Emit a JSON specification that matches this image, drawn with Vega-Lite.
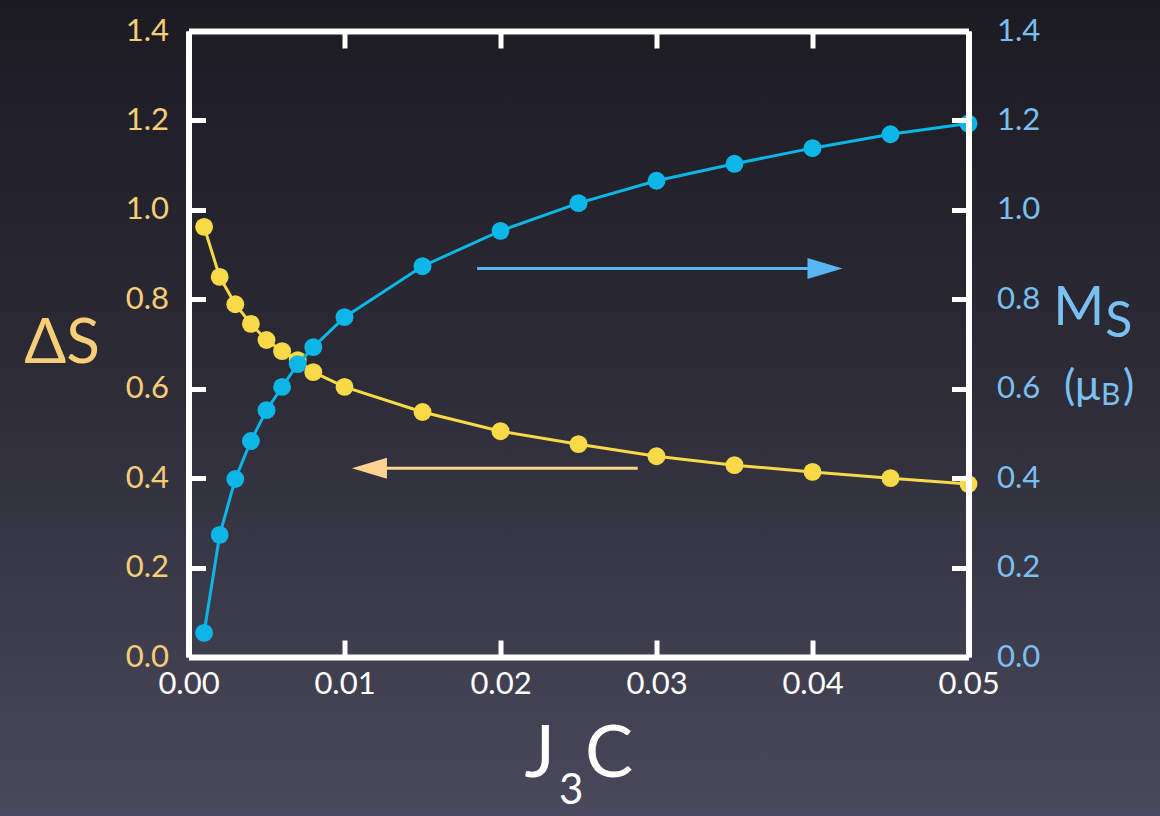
{
  "$schema": "https://vega.github.io/schema/vega-lite/v6.json",
  "width": 780,
  "height": 626,
  "autosize": {"type": "none"},
  "padding": {"left": 188.5, "top": 31, "right": 191.5, "bottom": 159},
  "background": "#2e2d39",
  "config": {
    "view": {"stroke": null},
    "font": "Lato",
    "axis": {
      "domainColor": "#ffffff",
      "domainWidth": 6,
      "tickColor": "#ffffff",
      "tickWidth": 5,
      "tickSize": -17,
      "labelFont": "Lato",
      "labelFontSize": 31,
      "grid": false,
      "labelFlush": false,
      "labelOverlap": false,
      "labelBound": false
    }
  },
  "datasets": {
    "curves": [
      {"J3C": 0.001, "dS": 0.962, "Ms": 0.054},
      {"J3C": 0.002, "dS": 0.850, "Ms": 0.273},
      {"J3C": 0.003, "dS": 0.789, "Ms": 0.398},
      {"J3C": 0.004, "dS": 0.745, "Ms": 0.483},
      {"J3C": 0.005, "dS": 0.709, "Ms": 0.552},
      {"J3C": 0.006, "dS": 0.684, "Ms": 0.604},
      {"J3C": 0.007, "dS": 0.664, "Ms": 0.655},
      {"J3C": 0.008, "dS": 0.637, "Ms": 0.693},
      {"J3C": 0.010, "dS": 0.604, "Ms": 0.760},
      {"J3C": 0.015, "dS": 0.548, "Ms": 0.874},
      {"J3C": 0.020, "dS": 0.505, "Ms": 0.953},
      {"J3C": 0.025, "dS": 0.476, "Ms": 1.015},
      {"J3C": 0.030, "dS": 0.449, "Ms": 1.065},
      {"J3C": 0.035, "dS": 0.429, "Ms": 1.103},
      {"J3C": 0.040, "dS": 0.414, "Ms": 1.138},
      {"J3C": 0.045, "dS": 0.400, "Ms": 1.169},
      {"J3C": 0.050, "dS": 0.387, "Ms": 1.193}
    ],
    "arrows": [
      {"series": "Ms", "x1": 0.0185, "xh": 0.0408, "y": 0.869, "dir": "right"},
      {"series": "dS", "x1": 0.0288, "xh": 0.0116, "y": 0.4223, "dir": "left"}
    ]
  },
  "layer": [
    {
      "data": {"values": [{}]},
      "mark": {
        "type": "rect",
        "fill": {
          "gradient": "linear", "x1": 0, "y1": 0, "x2": 0, "y2": 1,
          "stops": [
            {"offset": 0, "color": "#1b1a20"},
            {"offset": 0.066, "color": "#1c1b22"},
            {"offset": 0.5, "color": "#2d2c37"},
            {"offset": 0.978, "color": "#4a495d"},
            {"offset": 1, "color": "#4b4a5f"}
          ]
        }
      },
      "encoding": {
        "x": {"datum": -0.02, "type": "quantitative", "scale": {"domain": [0, 0.05]}, "axis": null},
        "x2": {"datum": 0.07},
        "y": {"datum": -0.4, "type": "quantitative", "scale": {"domain": [0, 1.4]}, "axis": null},
        "y2": {"datum": 1.6}
      }
    },
    {
      "data": {"name": "curves"},
      "mark": {"type": "line", "color": "#f8d948", "strokeWidth": 3},
      "encoding": {
        "x": {"field": "J3C", "type": "quantitative", "scale": {"domain": [0, 0.05]},
          "axis": {"orient": "bottom", "zindex": 1, "values": [0, 0.01, 0.02, 0.03, 0.04, 0.05], "format": ".2f", "labelColor": "#ffffff", "labelPadding": 29, "title": null}},
        "y": {"field": "dS", "type": "quantitative", "scale": {"domain": [0, 1.4]},
          "axis": {"orient": "left", "zindex": 1, "values": [0, 0.2, 0.4, 0.6, 0.8, 1.0, 1.2, 1.4], "format": ".1f", "labelColor": "#f6cd77", "labelPadding": 37, "title": null}}
      }
    },
    {
      "data": {"name": "curves"},
      "mark": {"type": "circle", "color": "#f8d948", "size": 320, "opacity": 1},
      "encoding": {
        "x": {"field": "J3C", "type": "quantitative", "scale": {"domain": [0, 0.05]}, "axis": null},
        "y": {"field": "dS", "type": "quantitative", "scale": {"domain": [0, 1.4]}, "axis": null}
      }
    },
    {
      "data": {"name": "curves"},
      "mark": {"type": "line", "color": "#0cb6e6", "strokeWidth": 3},
      "encoding": {
        "x": {"field": "J3C", "type": "quantitative", "scale": {"domain": [0, 0.05]},
          "axis": {"orient": "top", "zindex": 1, "values": [0, 0.01, 0.02, 0.03, 0.04, 0.05], "labels": false, "title": null}},
        "y": {"field": "Ms", "type": "quantitative", "scale": {"domain": [0, 1.4]},
          "axis": {"orient": "right", "zindex": 1, "values": [0, 0.2, 0.4, 0.6, 0.8, 1.0, 1.2, 1.4], "format": ".1f", "labelColor": "#7bbff2", "labelPadding": 45, "title": null}}
      }
    },
    {
      "data": {"name": "curves"},
      "mark": {"type": "circle", "color": "#0cb6e6", "size": 320, "opacity": 1},
      "encoding": {
        "x": {"field": "J3C", "type": "quantitative", "scale": {"domain": [0, 0.05]}, "axis": null},
        "y": {"field": "Ms", "type": "quantitative", "scale": {"domain": [0, 1.4]}, "axis": null}
      }
    },
    {
      "data": {"name": "arrows"},
      "mark": {"type": "rule", "strokeWidth": 3},
      "encoding": {
        "x": {"field": "x1", "type": "quantitative", "scale": {"domain": [0, 0.05]}, "axis": null},
        "x2": {"field": "xh"},
        "y": {"field": "y", "type": "quantitative", "scale": {"domain": [0, 1.4]}, "axis": null},
        "color": {"field": "series", "type": "nominal", "scale": {"domain": ["dS", "Ms"], "range": ["#fdd38f", "#5ab6f3"]}, "legend": null}
      }
    },
    {
      "data": {"name": "arrows"},
      "mark": {"type": "point", "filled": true, "opacity": 1, "size": 1225},
      "encoding": {
        "x": {"field": "xh", "type": "quantitative", "scale": {"domain": [0, 0.05]}, "axis": null},
        "y": {"field": "y", "type": "quantitative", "scale": {"domain": [0, 1.4]}, "axis": null},
        "color": {"field": "series", "type": "nominal", "scale": {"domain": ["dS", "Ms"], "range": ["#fdd38f", "#5ab6f3"]}, "legend": null},
        "shape": {"field": "dir", "type": "nominal", "scale": {"domain": ["left", "right"], "range": ["M1,-0.6L-1,0L1,0.6Z", "M-1,-0.6L1,0L-1,0.6Z"]}, "legend": null}
      }
    },
    {
      "data": {"values": [{"t": "ΔS", "x": -0.00811, "y": 0.657}]},
      "mark": {"type": "text", "color": "#f8cf78", "fontSize": 62, "align": "center", "baseline": "alphabetic", "font": "Lato"},
      "encoding": {
        "x": {"field": "x", "type": "quantitative", "scale": {"domain": [0, 0.05]}, "axis": null},
        "y": {"field": "y", "type": "quantitative", "scale": {"domain": [0, 1.4]}, "axis": null},
        "text": {"field": "t"}
      }
    },
    {
      "data": {"values": [{"t": "M", "x": 0.0587, "y": 0.7419}]},
      "mark": {"type": "text", "color": "#7bc0f3", "fontSize": 55, "align": "right", "baseline": "alphabetic", "font": "Lato"},
      "encoding": {
        "x": {"field": "x", "type": "quantitative", "scale": {"domain": [0, 0.05]}, "axis": null},
        "y": {"field": "y", "type": "quantitative", "scale": {"domain": [0, 1.4]}, "axis": null},
        "text": {"field": "t"}
      }
    },
    {
      "data": {"values": [{"t": "S", "x": 0.05876, "y": 0.7151}]},
      "mark": {"type": "text", "color": "#7bc0f3", "fontSize": 50, "align": "left", "baseline": "alphabetic", "font": "Lato"},
      "encoding": {
        "x": {"field": "x", "type": "quantitative", "scale": {"domain": [0, 0.05]}, "axis": null},
        "y": {"field": "y", "type": "quantitative", "scale": {"domain": [0, 1.4]}, "axis": null},
        "text": {"field": "t"}
      }
    },
    {
      "data": {"values": [{"t": "(μ", "x": 0.05843, "y": 0.5743}]},
      "mark": {"type": "text", "color": "#7bc0f3", "fontSize": 42, "align": "right", "baseline": "alphabetic", "font": "Lato"},
      "encoding": {
        "x": {"field": "x", "type": "quantitative", "scale": {"domain": [0, 0.05]}, "axis": null},
        "y": {"field": "y", "type": "quantitative", "scale": {"domain": [0, 1.4]}, "axis": null},
        "text": {"field": "t"}
      }
    },
    {
      "data": {"values": [{"t": ")", "x": 0.0599, "y": 0.5743}]},
      "mark": {"type": "text", "color": "#7bc0f3", "fontSize": 42, "align": "left", "baseline": "alphabetic", "font": "Lato"},
      "encoding": {
        "x": {"field": "x", "type": "quantitative", "scale": {"domain": [0, 0.05]}, "axis": null},
        "y": {"field": "y", "type": "quantitative", "scale": {"domain": [0, 1.4]}, "axis": null},
        "text": {"field": "t"}
      }
    },
    {
      "data": {"values": [{"t": "B", "x": 0.05849, "y": 0.5631}]},
      "mark": {"type": "text", "color": "#7bc0f3", "fontSize": 30, "align": "left", "baseline": "alphabetic", "font": "Lato"},
      "encoding": {
        "x": {"field": "x", "type": "quantitative", "scale": {"domain": [0, 0.05]}, "axis": null},
        "y": {"field": "y", "type": "quantitative", "scale": {"domain": [0, 1.4]}, "axis": null},
        "text": {"field": "t"}
      }
    },
    {
      "data": {"values": [{"t": "J", "x": 0.02349, "y": -0.2682}]},
      "mark": {"type": "text", "color": "#ffffff", "fontSize": 72, "align": "right", "baseline": "alphabetic", "font": "Lato"},
      "encoding": {
        "x": {"field": "x", "type": "quantitative", "scale": {"domain": [0, 0.05]}, "axis": null},
        "y": {"field": "y", "type": "quantitative", "scale": {"domain": [0, 1.4]}, "axis": null},
        "text": {"field": "t"}
      }
    },
    {
      "data": {"values": [{"t": "C", "x": 0.02542, "y": -0.2682}]},
      "mark": {"type": "text", "color": "#ffffff", "fontSize": 72, "align": "left", "baseline": "alphabetic", "font": "Lato"},
      "encoding": {
        "x": {"field": "x", "type": "quantitative", "scale": {"domain": [0, 0.05]}, "axis": null},
        "y": {"field": "y", "type": "quantitative", "scale": {"domain": [0, 1.4]}, "axis": null},
        "text": {"field": "t"}
      }
    },
    {
      "data": {"values": [{"t": "3", "x": 0.02375, "y": -0.3285}]},
      "mark": {"type": "text", "color": "#ffffff", "fontSize": 42, "align": "left", "baseline": "alphabetic", "font": "Lato"},
      "encoding": {
        "x": {"field": "x", "type": "quantitative", "scale": {"domain": [0, 0.05]}, "axis": null},
        "y": {"field": "y", "type": "quantitative", "scale": {"domain": [0, 1.4]}, "axis": null},
        "text": {"field": "t"}
      }
    }
  ],
  "resolve": {"axis": {"x": "independent", "y": "independent"}}
}
